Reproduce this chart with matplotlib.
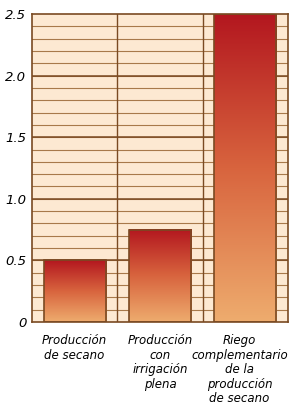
import numpy as np
import matplotlib.pyplot as plt
from matplotlib.colors import LinearSegmentedColormap

categories = ['Producción\nde secano', 'Producción\ncon\nirrigación\nplena',
              'Riego\ncomplementario\nde la\nproducción\nde secano']
values = [0.5, 0.75, 2.5]
yticks = [0, 0.5, 1.0, 1.5, 2.0, 2.5]
ytick_labels = ['0', '0.5', '1.0', '1.5', '2.0', '2.5']

brown = '#7a4a22'
cream = '#fde9d2'
grad = LinearSegmentedColormap.from_list('g', ['#eeac6e', '#d8643e', '#b3171f'])

fig = plt.figure(figsize=(2.9, 4.15), dpi=100)
ax = fig.add_axes([32 / 290, 1 - 322 / 415, 256 / 290, 308 / 415])
ax.set_facecolor(cream)

# grid: thin every 0.1, stronger every 0.5, vertical at category borders
for y in np.arange(0.1, 2.5, 0.1):
    ax.axhline(y, color='#a8794a', lw=0.8, zorder=1)
for y in yticks[1:-1]:
    ax.axhline(y, color=brown, lw=1.1, zorder=1)
for x in [0.5, 1.5]:
    ax.axvline(x, color=brown, lw=1.0, zorder=1)

bars = ax.bar(range(len(values)), values, width=0.73, color='none',
              edgecolor=brown, linewidth=1.2, zorder=3)
g = np.linspace(0, 1, 256).reshape(-1, 1)
for b in bars:
    x0, w, h = b.get_x(), b.get_width(), b.get_height()
    ax.imshow(g, extent=[x0, x0 + w, 0, h], origin='lower', aspect='auto',
              cmap=grad, zorder=2)

ax.set_xlim(-0.5, 2.5)
ax.set_ylim(0, 2.5)
ax.set_yticks(yticks)
ax.set_yticklabels(ytick_labels, fontsize=9.5, style='italic', color='black')
ax.set_xticks([])
# category labels under the bars (last one nudged left to stay inside)
label_x = [0, 1, 1.93]
for x, lab in zip(label_x, categories):
    ax.text(x, -0.1, lab, ha='center', va='top', fontsize=8.5, style='italic',
            linespacing=1.15)
ax.tick_params(length=0, pad=4)
for s in ax.spines.values():
    s.set_color(brown)
    s.set_linewidth(1.2)

fig.savefig('out.png', dpi=100)
